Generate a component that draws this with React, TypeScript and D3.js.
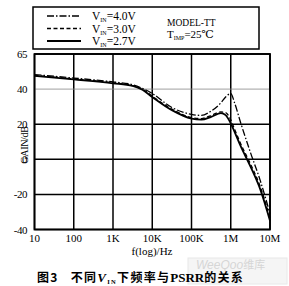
import React from "react";
import * as d3 from "d3";

// frequency points, log10(f/Hz)
const logF = [1, 2, 3, 3.5, 3.75, 4, 4.5, 5, 5.25, 5.5, 5.75, 5.87, 6, 6.1, 6.25, 6.5, 6.75, 7];
const gain27 = [47.5, 45.5, 43.3, 41.8, 39.6, 35.5, 28, 23.2, 22.6, 24.2, 26.3, 25.2, 20.5, 15.5, 7.6, -4, -17, -35];
const gain30 = [47.8, 45.8, 43.6, 42, 40, 36, 28.6, 23.8, 23.2, 25, 27, 26.6, 22.5, 17, 9, -2.5, -15.5, -33.5];
const gain40 = [48.3, 46.3, 44.1, 42.5, 40.4, 37.5, 29.5, 25.6, 25, 27.5, 32.2, 35.5, 37.5, 32, 21, 4, -12, -31];

const xTickVals = [1, 2, 3, 4, 5, 6, 7];
const xTickLabels = ["10", "100", "1K", "10K", "100K", "1M", "10M"];
const yTickVals = [-40, -20, 0, 20, 40, 60];
const yTickLabels = ["-40", "-20", "0", "20", "40", "65"];

const series = [
  { name: "4.0V", values: gain40, dash: "7,2,1.5,2", width: 1.3 },
  { name: "3.0V", values: gain30, dash: "4,2.5", width: 1.3 },
  { name: "2.7V", values: gain27, dash: "", width: 1.8 },
];

const serif = "'Liberation Serif', 'DejaVu Serif', serif";

export default function App() {
  const x = d3.scaleLinear().domain([1, 7]).range([34.5, 270]);
  const y = d3.scaleLinear().domain([-40, 60]).range([229.5, 54]);

  const line = d3
    .line<number>()
    .x((_, i) => x(logF[i]))
    .y((d) => y(d))
    .curve(d3.curveMonotoneX);

  const labelY = 145;

  return (
    <svg
      width={289}
      height={286}
      style={{ position: "absolute", left: 0, top: 0, background: "#fff" }}
      fontFamily={serif}
    >
      {/* legend box */}
      <rect x={33} y={7} width={226} height={42} fill="none" stroke="#000" strokeWidth={1.5} />
      {series.map((s, i) => (
        <g key={s.name}>
          <line
            x1={47}
            x2={81}
            y1={16 + i * 12.5}
            y2={16 + i * 12.5}
            stroke="#000"
            strokeWidth={s.width + 0.4}
            strokeDasharray={s.dash}
          />
          <text x={92} y={20 + i * 12.5} fontSize={11.5}>
            V<tspan fontSize={6} dy={2}>IN</tspan>
            <tspan dy={-2}>={s.name}</tspan>
          </text>
        </g>
      ))}
      <text x={167} y={26} fontSize={9.5}>MODEL-TT</text>
      <text x={167} y={38} fontSize={11}>
        T<tspan fontSize={6} dy={2}>IMP</tspan>
        <tspan dy={-2}>=25℃</tspan>
      </text>

      {/* grid */}
      {xTickVals.map((v) => (
        <line key={"gx" + v} x1={x(v)} x2={x(v)} y1={y(60)} y2={y(-40)} stroke="#000" strokeWidth={1.5} />
      ))}
      {yTickVals.map((v) => (
        <line
          key={"gy" + v}
          x1={x(1)}
          x2={x(7)}
          y1={y(v)}
          y2={y(v)}
          stroke={v === 40 ? "#888" : "#000"}
          strokeWidth={v === 40 ? 0.8 : 1.5}
        />
      ))}
      <rect x={x(1)} y={y(60)} width={x(7) - x(1)} height={y(-40) - y(60)} fill="none" stroke="#000" strokeWidth={1.8} />

      {/* curves */}
      {series.map((s) => (
        <path
          key={"c" + s.name}
          d={line(s.values) || ""}
          fill="none"
          stroke="#000"
          strokeWidth={s.width}
          strokeDasharray={s.dash}
        />
      ))}

      {/* tick labels */}
      {yTickVals.map((v, i) => (
        <text key={"ty" + v} x={27} y={y(v) + 4} fontSize={11} textAnchor="end" letterSpacing={-0.5}>
          {yTickLabels[i]}
        </text>
      ))}
      {xTickVals.map((v, i) => (
        <text key={"tx" + v} x={x(v)} y={242} fontSize={11} textAnchor="middle">
          {xTickLabels[i]}
        </text>
      ))}
      <text x={152} y={255} fontSize={11} textAnchor="middle">f(log)/Hz</text>
      <text
        x={28}
        y={labelY}
        transform={`rotate(-90, 28, ${labelY})`}
        fontSize={10}
        textAnchor="middle"
        letterSpacing={-0.3}
      >
        GAIN/dB
      </text>

      {/* watermark */}
      <rect x={188} y={258} width={99} height={26} fill="#f5f5f5" stroke="#e8e8e8" />
      <text x={196} y={268.5} fontSize={12} fill="#d6d6d6" fontStyle="italic" fontFamily="'Liberation Sans', sans-serif">
        WeeQoo<tspan fontStyle="normal" fontFamily="'Noto Sans CJK SC'" fontSize={11}>维库</tspan>
      </text>

      {/* caption */}
      <text x={37} y={282} fontSize={12} fontWeight="bold" letterSpacing={1.3} fontFamily="'Noto Sans CJK SC', sans-serif">
        图3
        <tspan dx={12}>不同</tspan>
        <tspan fontStyle="italic" fontFamily={serif} fontSize={13}>V</tspan>
        <tspan fontSize={6.5} dy={2} fontFamily={serif}>IN</tspan>
        <tspan dy={-2}>下频率与</tspan>
        <tspan fontFamily={serif} fontSize={13} letterSpacing={0}>PSRR</tspan>
        <tspan>的关系</tspan>
      </text>
    </svg>
  );
}
